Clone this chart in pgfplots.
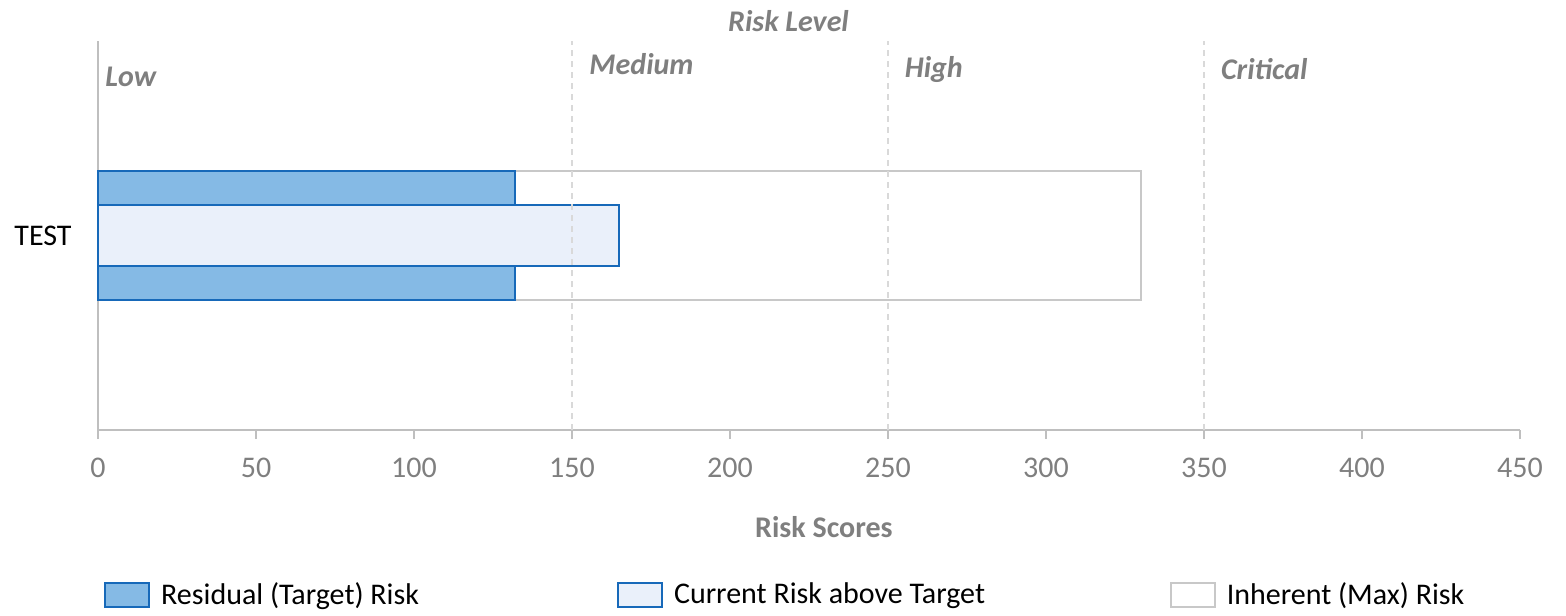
\documentclass[border=0pt]{standalone}
\usepackage{fontspec}
\setmainfont{Carlito}
\usepackage{pgfplots}
\pgfplotsset{compat=1.18}
\definecolor{resfill}{RGB}{133,186,229}
\definecolor{resline}{RGB}{23,105,185}
\definecolor{curfill}{RGB}{234,240,250}
\definecolor{inhline}{RGB}{200,200,200}
\definecolor{axgray}{RGB}{191,191,191}
\definecolor{dashgray}{RGB}{217,217,217}
\definecolor{txtgray}{RGB}{127,127,127}
\newcommand\f{\fontsize{15}{18}\selectfont}

\begin{document}
\begin{tikzpicture}
\path[use as bounding box] (-49pt,-92.5pt) rectangle (734pt,215pt);
\begin{axis}[
    at={(0,0)}, anchor=south west,
    width=711pt, height=194.5pt, scale only axis,
    xmin=0, xmax=450, ymin=0, ymax=1,
    axis x line*=bottom, axis y line*=left,
    axis line style={draw=axgray, line width=1.2pt},
    xtick={0,50,...,450},
    ytick={0.5}, yticklabels={TEST},
    tick align=outside,
    major tick length=4.5pt,
    xtick style={draw=axgray, line width=1pt},
    ytick style={draw=none},
    xticklabel style={font=\f, text=txtgray, anchor=base},
    xticklabel shift=19pt,
    yticklabel style={font=\f, text=black, anchor=east, inner sep=0pt},
    yticklabel shift=8.5pt,
    /pgf/number format/assume math mode=true,
    clip=false,
    legend columns=3,
    legend style={draw=none, fill=none, font=\f,
        at={(axis description cs:0.00422,-0.424)}, anchor=west,
        inner sep=0pt, nodes={inner sep=0pt, anchor=west},
        /tikz/every even column/.append style={column sep=0pt}},
    legend image code/.code={\draw[#1, line width=0.9pt] (0pt,-6pt) rectangle (22pt,6pt);},
]
% legend entries (bars themselves are forget plot)
\addlegendimage{fill=resfill, draw=resline}
\addlegendentry{\makebox[233.5pt][l]{\hspace{5.5pt}Residual (Target) Risk}}
\addlegendimage{fill=curfill, draw=resline}
\addlegendentry{\makebox[253.5pt][l]{\hspace{5.5pt}Current Risk above Target}}
\addlegendimage{fill=white, draw=inhline}
\addlegendentry{\hspace{5.5pt}Inherent (Max) Risk}

% bars
\addplot[xbar, bar width=0.332, fill=white, draw=inhline, line width=1pt, forget plot]
    coordinates {(330,0.5)};
\addplot[xbar, bar width=0.332, fill=resfill, draw=resline, line width=1pt, forget plot]
    coordinates {(132,0.5)};
\addplot[xbar, bar width=0.159, fill=curfill, draw=resline, line width=1pt, forget plot]
    coordinates {(165,0.5)};

% risk level boundaries
\addplot[dashgray, dash pattern=on 3pt off 2.5pt, line width=0.6pt, forget plot]
    coordinates {(150,0) (150,1)};
\addplot[dashgray, dash pattern=on 3pt off 2.5pt, line width=0.6pt, forget plot]
    coordinates {(250,0) (250,1)};
\addplot[dashgray, dash pattern=on 3pt off 2.5pt, line width=0.6pt, forget plot]
    coordinates {(350,0) (350,1)};

\node[anchor=base west, inner sep=0pt, font=\f\bfseries\itshape, text=txtgray] at (axis cs:2.2,0.882) {Low};
\node[anchor=base west, inner sep=0pt, font=\f\bfseries\itshape, text=txtgray] at (axis cs:155.4,0.915) {Medium};
\node[anchor=base west, inner sep=0pt, font=\f\bfseries\itshape, text=txtgray] at (axis cs:255.2,0.907) {High};
\node[anchor=base west, inner sep=0pt, font=\f\bfseries\itshape, text=txtgray] at (axis cs:355.3,0.900) {Critical};

\node[anchor=base, inner sep=0pt, font=\f\bfseries\itshape, text=txtgray] at ([yshift=4.5pt]rel axis cs:0.4856,1) {Risk Level};
\node[anchor=base, inner sep=0pt, font=\f\bfseries, text=txtgray] at ([yshift=-53.5pt]rel axis cs:0.5105,0) {Risk Scores};
\end{axis}
\end{tikzpicture}
\end{document}
